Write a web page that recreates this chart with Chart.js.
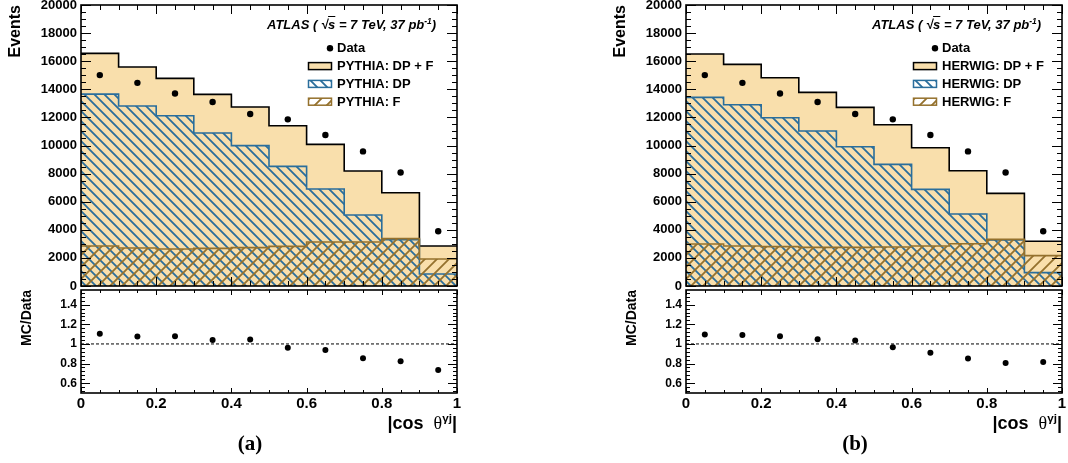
<!DOCTYPE html>
<html>
<head>
<meta charset="utf-8">
<script src="https://cdn.jsdelivr.net/npm/chart.js@4.4.0/dist/chart.umd.min.js"></script>
<style>
  body { margin: 0; background: #fff; width: 1068px; height: 463px; overflow: hidden; font-family: "Liberation Sans", Arial, sans-serif; }
  .panel { position: absolute; top: 0; width: 470px; height: 463px; }
  .panel canvas { position: absolute; left: 0; }
  .atlas { position: absolute; left: 267px; top: 17px; font: italic bold 13px "Liberation Sans", Arial, sans-serif; white-space: nowrap; line-height: 16px; }
  .ov { text-decoration: overline; }
  sup { font-size: 0.65em; line-height: 0; vertical-align: 0.6em; }
  .xtitle { position: absolute; right: 13px; top: 412px; font: bold 18px "Liberation Sans", Arial, sans-serif; white-space: nowrap; line-height: 22px; }
  .xtitle .th { font-family: "Liberation Serif", serif; font-weight: normal; }
  .tag { position: absolute; left: 200px; width: 100px; text-align: center; top: 430px; font: bold 21px "Liberation Serif", "Times New Roman", serif; line-height: 26px; }
</style>
</head>
<body>
<div class="panel" style="left:0px">
  <canvas id="mainA" width="470" height="290" style="top:0px"></canvas>
  <canvas id="ratioA" width="470" height="130" style="top:286px"></canvas>
  <div class="atlas">ATLAS ( √<span class="ov">s</span> = 7 TeV, 37 pb<sup>-1</sup>)</div>
  <div class="xtitle">|cos&nbsp;&nbsp;<span class="th">θ</span><sup>γj</sup>|</div>
  <div class="tag">(a)</div>
</div>
<div class="panel" style="left:605px">
  <canvas id="mainB" width="470" height="290" style="top:0px"></canvas>
  <canvas id="ratioB" width="470" height="130" style="top:286px"></canvas>
  <div class="atlas">ATLAS ( √<span class="ov">s</span> = 7 TeV, 37 pb<sup>-1</sup>)</div>
  <div class="xtitle">|cos&nbsp;&nbsp;<span class="th">θ</span><sup>γj</sup>|</div>
  <div class="tag">(b)</div>
</div>
<script>
// bins of |cos theta|
const binEdges = [0, 0.1, 0.2, 0.3, 0.4, 0.5, 0.6, 0.7, 0.8, 0.9, 1.0];
const xTicks = [0, 0.2, 0.4, 0.6, 0.8, 1];
const xTickLabels = ["0", "0.2", "0.4", "0.6", "0.8", "1"];
const eventTicks = [0, 2000, 4000, 6000, 8000, 10000, 12000, 14000, 16000, 18000, 20000];
const eventTickLabels = ["0", "2000", "4000", "6000", "8000", "10000", "12000", "14000", "16000", "18000", "20000"];
const ratioTicks = [0.6, 0.8, 1, 1.2, 1.4];
const ratioTickLabels = ["0.6", "0.8", "1", "1.2", "1.4"];

// data (same in both panels)
const dataEvents = [15010, 14460, 13700, 13100, 12240, 11860, 10750, 9580, 8080, 3900];

// PYTHIA
const pythiaTotal = [16560, 15585, 14780, 13640, 12740, 11410, 10080, 8185, 6640, 2850];
const pythiaDP = [13660, 12810, 12120, 10890, 9990, 8515, 6900, 5050, 3300, 855];
const pythiaF = [2850, 2705, 2635, 2680, 2730, 2820, 3130, 3130, 3370, 1920];
const pythiaRatio = [1.103, 1.076, 1.079, 1.041, 1.045, 0.962, 0.938, 0.855, 0.824, 0.734];
const pythiaLabels = ["Data", "PYTHIA: DP + F", "PYTHIA: DP", "PYTHIA: F"];

// HERWIG
const herwigTotal = [16510, 15775, 14825, 13780, 12715, 11480, 9845, 8207, 6595, 3180];
const herwigDP = [13425, 12905, 11980, 11030, 9915, 8660, 6880, 5125, 3275, 950];
const herwigF = [2990, 2845, 2800, 2750, 2750, 2775, 2845, 3010, 3320, 2160];
const herwigRatio = [1.097, 1.090, 1.079, 1.048, 1.034, 0.966, 0.910, 0.852, 0.807, 0.817];
const herwigLabels = ["Data", "HERWIG: DP + F", "HERWIG: DP", "HERWIG: F"];

const FONT = "'Liberation Sans', Arial, sans-serif";
const PEACH = "#f9dfac";
const BLUE = "#2a6e9c";
const BROWN = "#94712d";

Chart.defaults.font.family = FONT;
Chart.defaults.color = "#000";

function hatch(color, forward, s) {
  const c = document.createElement("canvas");
  c.width = s; c.height = s;
  const g = c.getContext("2d");
  g.strokeStyle = color;
  g.lineWidth = 1.8;
  g.beginPath();
  if (forward) {
    g.moveTo(0, s); g.lineTo(s, 0);
    g.moveTo(-2, 2); g.lineTo(2, -2);
    g.moveTo(s - 2, s + 2); g.lineTo(s + 2, s - 2);
  } else {
    g.moveTo(0, 0); g.lineTo(s, s);
    g.moveTo(-2, s - 2); g.lineTo(2, s + 2);
    g.moveTo(s - 2, -2); g.lineTo(s + 2, 2);
  }
  g.stroke();
  return g.createPattern(c, "repeat");
}
const dpHatch = hatch(BLUE, false, 10);
const fHatch = hatch(BROWN, true, 12);

// histogram as step line: value holds from left edge to the next edge
function steps(vals) {
  const pts = vals.map((v, i) => ({ x: binEdges[i], y: v }));
  pts.push({ x: binEdges[vals.length], y: vals[vals.length - 1] });
  return pts;
}
function centers(vals) {
  return vals.map((v, i) => ({ x: (binEdges[i] + binEdges[i + 1]) / 2, y: v }));
}

// keep tick labels from pushing the plot area around
function noPad(s) {
  s.paddingTop = 0; s.paddingBottom = 0; s.paddingLeft = 0; s.paddingRight = 0;
}

// ROOT style frame with inward ticks on all sides
const frameTicks = {
  id: "frameTicks",
  afterDatasetsDraw(chart, args, o) {
    const { ctx, chartArea: a } = chart;
    const x = chart.scales.x, y = chart.scales.y;
    const loop = (scale, minor, major, fn) => {
      for (let k = Math.ceil(scale.min / minor - 1e-6); k * minor <= scale.max + 1e-9; k++) {
        const v = k * minor;
        const isMajor = Math.abs(v / major - Math.round(v / major)) < 1e-6;
        fn(Math.round(scale.getPixelForValue(v)) + 0.5, isMajor);
      }
    };
    ctx.save();
    ctx.strokeStyle = "#000";
    ctx.lineWidth = 1;
    ctx.beginPath();
    loop(x, o.xMinor, o.xMajor, (px, m) => {
      const l = m ? o.xMajorLen : o.xMinorLen;
      ctx.moveTo(px, a.bottom); ctx.lineTo(px, a.bottom - l);
      ctx.moveTo(px, a.top); ctx.lineTo(px, a.top + l);
    });
    loop(y, o.yMinor, o.yMajor, (py, m) => {
      const l = m ? o.yMajorLen : o.yMinorLen;
      ctx.moveTo(a.left, py); ctx.lineTo(a.left + l, py);
      ctx.moveTo(a.right, py); ctx.lineTo(a.right - l, py);
    });
    ctx.stroke();
    ctx.lineWidth = 1.6;
    ctx.strokeRect(a.left, a.top, a.right - a.left, a.bottom - a.top);
    ctx.restore();
  }
};

const histLegend = {
  id: "histLegend",
  afterDraw(chart, args, o) {
    if (!o.items) return;
    const ctx = chart.ctx;
    ctx.save();
    ctx.font = "bold 13px " + FONT;
    ctx.textBaseline = "middle";
    o.items.forEach((it, i) => {
      const cy = o.top + i * o.rowH;
      if (it.point) {
        ctx.beginPath();
        ctx.arc(o.markX, cy, 3.2, 0, Math.PI * 2);
        ctx.fillStyle = "#000";
        ctx.fill();
      } else {
        ctx.fillStyle = "#fff";
        ctx.fillRect(o.boxX, cy - 3.5, 23, 7);
        ctx.fillStyle = it.fill;
        ctx.fillRect(o.boxX, cy - 3.5, 23, 7);
        ctx.strokeStyle = it.stroke;
        ctx.lineWidth = 1.5;
        ctx.strokeRect(o.boxX, cy - 3.5, 23, 7);
      }
      ctx.fillStyle = "#000";
      ctx.fillText(it.label, o.textX, cy + 0.5);
    });
    ctx.restore();
  }
};

function makeMain(id, total, dp, f, labels) {
  new Chart(document.getElementById(id), {
    type: "line",
    data: {
      datasets: [
        { data: centers(dataEvents), showLine: false, pointRadius: 3.2, pointBackgroundColor: "#000", pointBorderWidth: 0, order: 0 },
        { data: steps(f), stepped: true, fill: "origin", backgroundColor: fHatch, borderColor: BROWN, borderWidth: 1.6, pointRadius: 0, order: 1 },
        { data: steps(dp), stepped: true, fill: "origin", backgroundColor: dpHatch, borderColor: BLUE, borderWidth: 1.6, pointRadius: 0, order: 2 },
        { data: steps(total), stepped: true, fill: "origin", backgroundColor: PEACH, borderColor: "#000", borderWidth: 1.6, pointRadius: 0, order: 3 }
      ]
    },
    options: {
      responsive: false,
      animation: false,
      devicePixelRatio: 1,
      layout: { autoPadding: false, padding: { left: 0, right: 13, top: 5, bottom: 0 } },
      scales: {
        x: {
          type: "linear", min: 0, max: 1,
          grid: { display: false, drawTicks: false }, border: { display: false },
          ticks: { display: false },
          afterFit: (s) => { s.height = 4; noPad(s); }
        },
        y: {
          min: 0, max: 20000,
          grid: { display: false, drawTicks: false }, border: { display: false },
          afterBuildTicks: (s) => { s.ticks = eventTicks.map((v) => ({ value: v })); },
          ticks: { autoSkip: false, padding: 4, font: { size: 13, weight: "bold" }, callback: (v, i) => eventTickLabels[i] },
          title: { display: true, text: "Events", align: "end", font: { size: 16, weight: "bold" }, padding: { top: 6, bottom: 0 } },
          afterFit: (s) => { s.width = 81; noPad(s); }
        }
      },
      plugins: {
        legend: { display: false },
        tooltip: { enabled: false },
        frameTicks: { xMinor: 0.05, xMajor: 0.2, xMinorLen: 5, xMajorLen: 9, yMinor: 500, yMajor: 2000, yMinorLen: 5, yMajorLen: 10 },
        histLegend: {
          top: 48.3, rowH: 17.8, markX: 330, boxX: 308.5, textX: 337,
          items: [
            { point: true, label: labels[0] },
            { fill: PEACH, stroke: "#000", label: labels[1] },
            { fill: dpHatch, stroke: BLUE, label: labels[2] },
            { fill: fHatch, stroke: BROWN, label: labels[3] }
          ]
        }
      }
    },
    plugins: [frameTicks, histLegend]
  });
}

function makeRatio(id, ratio) {
  new Chart(document.getElementById(id), {
    type: "line",
    data: {
      datasets: [
        { data: centers(ratio), showLine: false, pointRadius: 3, pointBackgroundColor: "#000", pointBorderWidth: 0, order: 0 },
        { data: [{ x: binEdges[0], y: 1 }, { x: binEdges[binEdges.length - 1], y: 1 }], borderColor: "#000", borderWidth: 1, borderDash: [3, 2], pointRadius: 0, order: 1 }
      ]
    },
    options: {
      responsive: false,
      animation: false,
      devicePixelRatio: 1,
      layout: { autoPadding: false, padding: { left: 0, right: 13, top: 4, bottom: 0 } },
      scales: {
        x: {
          type: "linear", min: 0, max: 1,
          grid: { display: false, drawTicks: false }, border: { display: false },
          afterBuildTicks: (s) => { s.ticks = xTicks.map((v) => ({ value: v })); },
          ticks: { autoSkip: false, maxRotation: 0, padding: 2, font: { size: 15, weight: "bold" }, callback: (v, i) => xTickLabels[i] },
          afterFit: (s) => { s.height = 23; noPad(s); }
        },
        y: {
          min: 0.5, max: 1.55,
          grid: { display: false, drawTicks: false }, border: { display: false },
          afterBuildTicks: (s) => { s.ticks = ratioTicks.map((v) => ({ value: v })); },
          ticks: { autoSkip: false, padding: 4, font: { size: 12, weight: "bold" }, callback: (v, i) => ratioTickLabels[i] },
          title: { display: true, text: "MC/Data", align: "end", font: { size: 14, weight: "bold" }, padding: { top: 19, bottom: 0 } },
          afterFit: (s) => { s.width = 81; noPad(s); }
        }
      },
      plugins: {
        legend: { display: false },
        tooltip: { enabled: false },
        frameTicks: { xMinor: 0.05, xMajor: 0.2, xMinorLen: 3, xMajorLen: 5, yMinor: 0.04, yMajor: 0.2, yMinorLen: 4, yMajorLen: 9 }
      }
    },
    plugins: [frameTicks]
  });
}

makeMain("mainA", pythiaTotal, pythiaDP, pythiaF, pythiaLabels);
makeRatio("ratioA", pythiaRatio);
makeMain("mainB", herwigTotal, herwigDP, herwigF, herwigLabels);
makeRatio("ratioB", herwigRatio);
</script>
</body>
</html>
